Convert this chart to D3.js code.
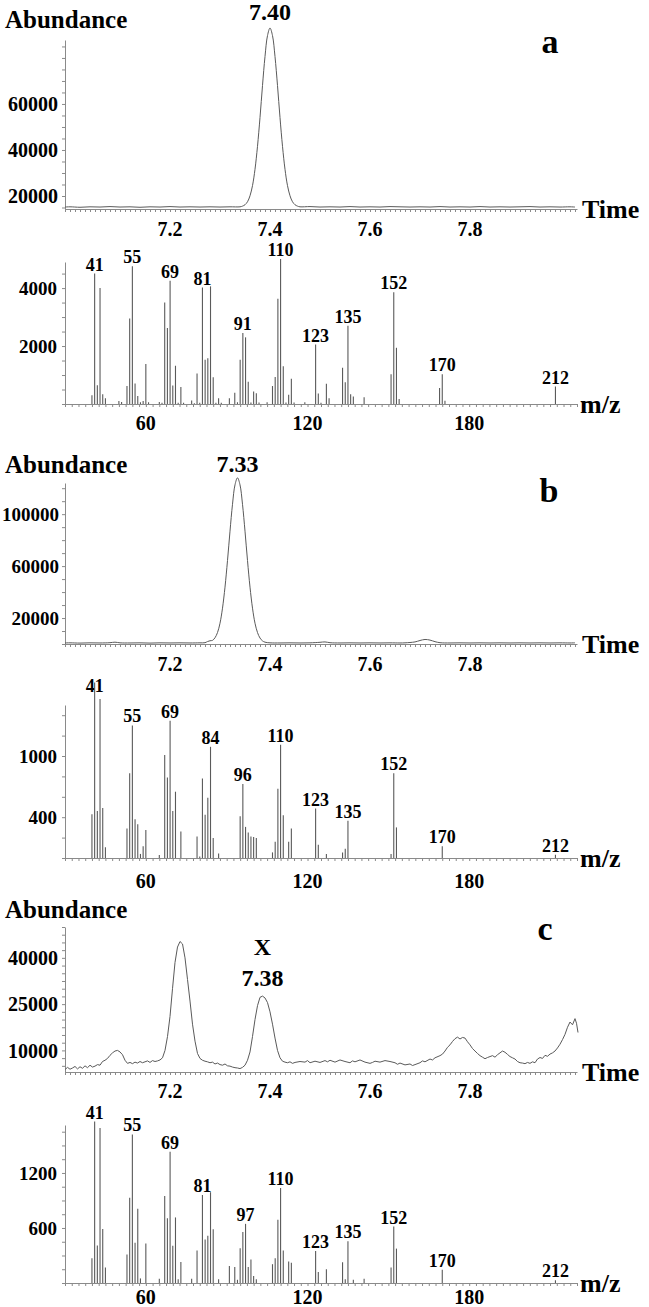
<!DOCTYPE html>
<html><head><meta charset="utf-8">
<script src="https://cdn.jsdelivr.net/npm/d3@7/dist/d3.min.js"></script>
<style>
body{margin:0;background:#fff}
text{font-family:"Liberation Serif","Times New Roman",serif;font-weight:bold;fill:#000}
</style>
</head><body>
<svg id="fig" width="649" height="1307"></svg>
<script>
// ---------------- DATA ----------------
const timeTickLabels = [7.2, 7.4, 7.6, 7.8];
const mzTickLabels = [60, 120, 180];

// chromatogram a (time in min, abundance)
const chromA_t = [6.99,7.00,7.02,7.04,7.06,7.08,7.10,7.12,7.14,7.16,7.18,7.20,7.22,7.24,7.26,7.28,7.30,7.32,7.34,7.345,7.35,7.355,7.36,7.365,7.37,7.375,7.38,7.385,7.39,7.395,7.40,7.405,7.41,7.415,7.42,7.425,7.43,7.435,7.44,7.445,7.45,7.455,7.46,7.48,7.50,7.52,7.54,7.56,7.58,7.60,7.62,7.64,7.66,7.68,7.70,7.72,7.74,7.76,7.78,7.80,7.82,7.84,7.86,7.88,7.90,7.92,7.94,7.96,7.98,8.00,8.01];
const chromA_v = [15200,15300,15100,15300,15200,15400,15200,15300,15100,15300,15200,15400,15200,15300,15200,15300,15200,15300,15300,15600,16200,17500,20100,24500,31600,41600,54100,68000,80600,89700,93000,89700,80600,68000,54100,41600,31600,24500,20100,17500,16200,15600,15300,15400,15200,15300,15200,15400,15200,15300,15200,15400,15300,15200,15300,15200,15400,15200,15300,15200,15400,15200,15300,15200,15300,15400,15200,15300,15200,15300,15200];

// chromatogram b
const chromB_t = [6.99,7.00,7.02,7.04,7.06,7.08,7.09,7.10,7.12,7.14,7.16,7.18,7.20,7.22,7.24,7.26,7.27,7.275,7.28,7.285,7.29,7.295,7.30,7.305,7.31,7.315,7.32,7.325,7.33,7.335,7.34,7.345,7.35,7.355,7.36,7.365,7.37,7.375,7.38,7.385,7.39,7.40,7.42,7.44,7.46,7.48,7.50,7.51,7.52,7.54,7.56,7.58,7.60,7.62,7.64,7.66,7.67,7.69,7.70,7.71,7.72,7.73,7.74,7.76,7.78,7.80,7.82,7.84,7.86,7.88,7.90,7.92,7.94,7.96,7.98,8.00,8.01];
const chromB_v = [800,900,700,900,800,1000,1400,900,800,900,700,900,800,900,800,900,1000,1900,2500,2800,4800,8800,16000,27600,43800,64300,86900,107600,122600,128000,122600,107600,86900,64300,43800,27600,16000,8800,4600,2400,1400,900,800,900,800,900,1300,1600,1000,800,900,800,900,800,900,800,900,1600,2700,3500,3000,1800,1000,800,900,800,900,800,900,800,900,800,900,800,900,800,900];

// chromatogram c
const chromC_t = [6.99,6.995,7.00,7.005,7.01,7.015,7.02,7.025,7.03,7.035,7.04,7.045,7.05,7.055,7.06,7.065,7.07,7.075,7.08,7.085,7.09,7.095,7.10,7.105,7.11,7.115,7.12,7.125,7.13,7.135,7.14,7.145,7.15,7.155,7.16,7.165,7.17,7.175,7.18,7.185,7.19,7.195,7.20,7.205,7.21,7.215,7.22,7.225,7.23,7.235,7.24,7.245,7.25,7.255,7.26,7.265,7.27,7.275,7.28,7.285,7.29,7.295,7.30,7.305,7.31,7.315,7.32,7.325,7.33,7.335,7.34,7.345,7.35,7.355,7.36,7.365,7.37,7.375,7.38,7.385,7.39,7.395,7.40,7.405,7.41,7.415,7.42,7.425,7.43,7.435,7.44,7.445,7.45,7.46,7.47,7.475,7.48,7.49,7.50,7.51,7.515,7.52,7.53,7.54,7.55,7.56,7.565,7.57,7.58,7.59,7.60,7.605,7.61,7.62,7.63,7.64,7.65,7.655,7.66,7.67,7.68,7.685,7.69,7.70,7.705,7.71,7.72,7.725,7.73,7.74,7.745,7.75,7.755,7.76,7.765,7.77,7.775,7.78,7.785,7.79,7.795,7.80,7.805,7.81,7.815,7.82,7.825,7.83,7.835,7.84,7.845,7.85,7.855,7.86,7.865,7.87,7.875,7.88,7.885,7.89,7.895,7.90,7.905,7.91,7.915,7.92,7.925,7.93,7.935,7.94,7.945,7.95,7.955,7.96,7.965,7.97,7.975,7.98,7.985,7.99,7.995,8.00,8.005,8.01,8.013,8.016,8.02,8.024];
const chromC_v = [3800,4500,3900,4300,4800,4000,4700,4200,5000,4400,5200,4600,4900,5400,5200,6400,6800,7400,8400,9200,9800,10000,9500,8600,6800,5800,6100,5700,6200,5900,6400,6000,6300,6600,6100,6700,6400,6600,6900,7600,10000,14500,21000,30000,38500,43500,45300,44500,40000,33000,26000,18500,13000,9000,7400,6800,6500,6300,6000,6200,5600,5900,5400,5200,5600,5000,4900,4600,4400,4300,4100,4500,5200,6800,9500,14500,20000,24500,27200,27600,27000,25500,22500,18500,14000,10000,7600,6500,6200,6000,6300,5800,6100,6400,6200,6700,6000,6500,6100,6700,6300,6800,6200,6900,6400,6000,6600,6300,6900,6200,5800,6100,6500,6200,6700,6400,6000,5500,5900,5300,5600,5100,5400,6000,6600,6300,7200,6900,7600,8300,8800,9800,11000,11800,12900,13800,14300,13700,14200,14000,12800,11800,10600,9800,9000,8300,7800,7300,7700,8000,8300,7800,8600,9200,9800,9400,8700,8000,7600,7200,6400,6000,5900,5700,6100,5800,6300,6000,7200,7700,7400,8400,8100,8800,9200,9800,10800,12000,13500,15200,17500,19200,18300,20300,18800,15800];

// mass spectrum a
const specA_mz  = [40,41,42,43,44,45,50,51,53,54,55,56,57,58,59,60,61,65,66,67,68,69,70,71,72,73,74,77,78,79,80,81,82,83,84,85,86,87,88,91,93,94,95,96,97,98,99,100,101,102,105,107,108,109,110,111,112,113,114,115,119,123,124,125,127,128,133,134,135,136,137,141,151,152,153,154,169,170,171,212];
const specA_int = [300,4500,650,4000,340,200,100,70,620,2950,4750,710,280,60,100,1380,60,70,40,3500,2620,4250,640,1320,40,590,40,120,30,1050,40,4020,1530,1580,4060,920,40,200,40,200,390,60,1530,2450,2300,770,50,430,370,50,60,620,930,3630,5000,1300,50,320,870,50,60,2050,360,40,700,200,1250,750,2700,340,260,230,1030,3860,1940,170,550,1030,110,600];
const specA_labelMz   = [41,55,69,81,96,110,123,135,152,170,212];
const specA_labelText = ["41","55","69","81","91","110","123","135","152","170","212"];

// mass spectrum b
const specB_mz  = [40,41,42,43,44,45,53,54,55,56,57,58,59,60,65,67,68,69,70,71,73,79,80,81,82,83,84,85,87,95,96,97,98,99,100,101,107,108,109,110,111,113,114,123,124,127,133,134,135,151,152,153,170,212];
const specB_int = [430,1720,460,1560,490,105,290,830,1300,380,330,40,115,275,30,1010,790,1345,460,650,260,210,15,780,425,590,1090,195,45,410,725,305,250,210,205,195,55,160,680,1110,420,160,290,485,130,40,55,90,365,40,830,300,115,33];
const specB_labelMz   = [41,55,69,84,96,110,123,135,152,170,212];
const specB_labelText = ["41","55","69","84","96","110","123","135","152","170","212"];

// mass spectrum c
const specC_mz  = [40,41,42,43,44,45,53,54,55,56,57,58,60,65,67,68,69,70,71,72,73,77,79,81,82,83,84,85,87,91,93,94,95,96,97,98,99,100,101,107,108,109,110,111,113,114,123,124,127,133,134,135,137,141,151,152,153,170,212];
const specC_int = [270,1760,410,1690,590,170,310,930,1620,440,810,50,430,45,950,705,1430,405,715,40,230,45,355,960,475,515,990,585,40,185,175,35,380,555,645,175,255,75,40,205,270,690,1035,355,235,220,350,120,150,225,40,455,35,45,170,615,375,145,30];
const specC_labelMz   = [41,55,69,81,97,110,123,135,152,170,212];
const specC_labelText = ["41","55","69","81","97","110","123","135","152","170","212"];

const chromTicksA = [20000,40000,60000];
const chromTicksB = [20000,60000,100000];
const chromTicksC = [10000,25000,40000];
const specTicksA = [2000,4000];
const specTicksB = [400,1000];
const specTicksC = [600,1200];

// ---------------- DRAWING ----------------
const svg = d3.select("#fig");
const X0 = 65, X1 = 577;
const AXIS = "#8a8a8a", INK = "#5a5a5a";

function yAxis(g, y, major, minorStep, fs, pad) {
  const [d0, d1] = y.domain();
  const minor = d3.range(Math.ceil(d0 / minorStep) * minorStep, d1 + 1e-9, minorStep);
  g.append("g").attr("transform", `translate(${X0},0)`)
    .call(d3.axisLeft(y).tickValues(minor).tickSize(3).tickSizeOuter(0).tickFormat(""))
    .call(s => { s.selectAll("path,line").attr("stroke", AXIS).attr("stroke-width", 1); });
  g.append("g").attr("transform", `translate(${X0},0)`)
    .call(d3.axisLeft(y).tickValues(major).tickSize(0).tickPadding(pad).tickFormat(d3.format("d")))
    .call(s => { s.select(".domain").remove();
      s.selectAll("text").style("font-family", '"Liberation Serif",serif').style("font-weight", "bold")
        .style("font-size", fs + "px").attr("fill", "#000").attr("dy", "0.34em"); });
}
function xAxis(g, x, yb, minorStep, labels, labelY, fmt) {
  const [d0, d1] = x.domain();
  const minor = d3.range(Math.ceil(d0 / minorStep - 1e-9) * minorStep, d1 + 1e-9, minorStep);
  g.append("g").attr("transform", `translate(0,${yb})`)
    .call(d3.axisBottom(x).tickValues(minor).tickSize(3).tickSizeOuter(0).tickFormat(""))
    .call(s => { s.selectAll("path,line").attr("stroke", AXIS).attr("stroke-width", 1); });
  g.selectAll(null).data(labels).join("text")
    .attr("x", d => x(d)).attr("y", labelY).attr("text-anchor", "middle")
    .style("font-size", "20px").text(fmt);
}

function chrom(cfg) {
  const g = svg.append("g");
  const x = d3.scaleLinear().domain([6.99, 8.014]).range([X0, X1]);
  const y = d3.scaleLinear().domain(cfg.yDomain).range([cfg.yBottom, cfg.yTop]);
  yAxis(g, y, cfg.ticks, cfg.minor, cfg.tickFs, cfg.tickPad);
  xAxis(g, x, cfg.yBottom, 0.01, timeTickLabels, cfg.tickLabelY, d => d.toFixed(1));
  const pts = cfg.t.map((t, i) => [t, cfg.v[i]]);
  g.append("path").datum(pts)
    .attr("d", d3.line().x(d => x(d[0])).y(d => y(d[1])).curve(cfg.curve))
    .attr("fill", "none").attr("stroke", INK).attr("stroke-width", 1);
  g.append("text").attr("x", 5).attr("y", cfg.titleY).style("font-size", "25px").text("Abundance");
  g.append("text").attr("x", 582).attr("y", cfg.yBottom + 9).style("font-size", "26px").text("Time");
  g.append("text").attr("x", cfg.letterX).attr("y", cfg.letterY).attr("text-anchor", "middle")
    .style("font-size", "34px").text(cfg.letter);
  cfg.peakLabels.forEach(p => {
    g.append("text").attr("x", x(p.t)).attr("y", p.y).attr("text-anchor", "middle")
      .style("font-size", "24px").text(p.text);
  });
}

function spec(cfg) {
  const g = svg.append("g");
  const x = d3.scaleLinear().domain([30, 220]).range([X0, X1]);
  const y = d3.scaleLinear().domain(cfg.yDomain).range([cfg.yBottom, cfg.yTop]);
  yAxis(g, y, cfg.ticks, cfg.minor, 19, 8);
  xAxis(g, x, cfg.yBottom, 2.5, mzTickLabels, cfg.tickLabelY, d => d);
  g.selectAll(null).data(cfg.labelMz).join("text")
    .attr("x", d => x(d))
    .attr("y", d => Math.max(y(cfg.int[cfg.mz.indexOf(d)]) - 3, cfg.yTop - 13))
    .attr("text-anchor", "middle").style("font-size", "18px")
    .text((d, i) => cfg.labelText[i]);
  g.selectAll(null).data(cfg.mz).join("line")
    .attr("x1", d => x(d)).attr("x2", d => x(d))
    .attr("y1", y(0)).attr("y2", (d, i) => y(cfg.int[i]))
    .attr("stroke", INK).attr("stroke-width", 1.1);
  g.append("text").attr("x", 580).attr("y", cfg.yBottom + 9).style("font-size", "26px").text("m/z");
}

chrom({t: chromA_t, v: chromA_v, yDomain: [14350, 87800], yTop: 40, yBottom: 209,
  ticks: chromTicksA, minor: 5000, tickFs: 20, tickPad: 7, tickLabelY: 236, titleY: 28,
  letter: "a", letterX: 550, letterY: 53,
  curve: d3.curveCatmullRom, peakLabels: [{t: 7.40, y: 20, text: "7.40"}]});
spec({mz: specA_mz, int: specA_int, labelMz: specA_labelMz, labelText: specA_labelText,
  yDomain: [0, 4900], yTop: 262, yBottom: 404, ticks: specTicksA, minor: 500, tickLabelY: 430});

chrom({t: chromB_t, v: chromB_v, yDomain: [0, 124000], yTop: 483, yBottom: 644,
  ticks: chromTicksB, minor: 10000, tickFs: 19, tickPad: 6, tickLabelY: 671, titleY: 473,
  letter: "b", letterX: 549, letterY: 502,
  curve: d3.curveCatmullRom, peakLabels: [{t: 7.335, y: 472, text: "7.33"}]});
spec({mz: specB_mz, int: specB_int, labelMz: specB_labelMz, labelText: specB_labelText,
  yDomain: [0, 1500], yTop: 705, yBottom: 858, ticks: specTicksB, minor: 200, tickLabelY: 888});

chrom({t: chromC_t, v: chromC_v, yDomain: [3000, 50000], yTop: 927, yBottom: 1072,
  ticks: chromTicksC, minor: 2500, tickFs: 20, tickPad: 7, tickLabelY: 1098, titleY: 918,
  letter: "c", letterX: 545, letterY: 940,
  curve: d3.curveLinear, peakLabels: [{t: 7.385, y: 955, text: "X"}, {t: 7.385, y: 986, text: "7.38"}]});
spec({mz: specC_mz, int: specC_int, labelMz: specC_labelMz, labelText: specC_labelText,
  yDomain: [0, 1723], yTop: 1125, yBottom: 1283, ticks: specTicksC, minor: 150, tickLabelY: 1304});
</script>
</body></html>
